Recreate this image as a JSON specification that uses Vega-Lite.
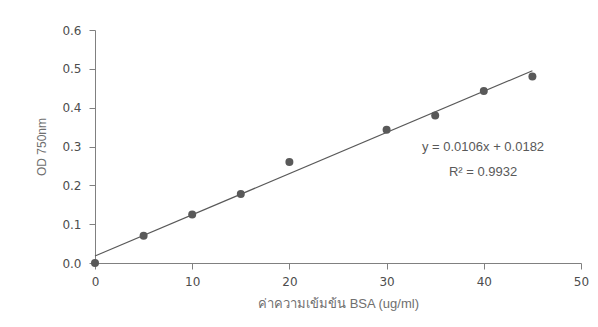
{
  "$schema": "https://vega.github.io/schema/vega-lite/v6.json",
  "width": 486,
  "height": 233,
  "autosize": {"type": "none"},
  "padding": {"left": 95, "top": 30, "right": 17, "bottom": 64},
  "background": "white",
  "config": {
    "view": {"stroke": null},
    "axis": {
      "labelFont": "DejaVu Sans",
      "labelFontSize": 12,
      "labelColor": "#4d4d4d",
      "labelOverlap": false,
      "labelFlush": false,
      "labelBound": false,
      "titleFont": "Liberation Sans",
      "titleFontWeight": "normal",
      "titleColor": "#6f6f6f",
      "domainColor": "#808080",
      "tickColor": "#808080",
      "tickSize": 6,
      "grid": false
    }
  },
  "datasets": {
    "points": [
      {"conc": 0, "od": 0.0},
      {"conc": 5, "od": 0.07},
      {"conc": 10, "od": 0.125},
      {"conc": 15, "od": 0.178},
      {"conc": 20, "od": 0.26},
      {"conc": 30, "od": 0.343},
      {"conc": 35, "od": 0.38},
      {"conc": 40, "od": 0.443},
      {"conc": 45, "od": 0.48}
    ],
    "trend": [
      {"conc": 0, "od": 0.0182},
      {"conc": 45, "od": 0.4952}
    ]
  },
  "layer": [
    {
      "data": {"name": "trend"},
      "mark": {"type": "line", "color": "#595959", "strokeWidth": 1.2},
      "encoding": {
        "x": {"field": "conc", "type": "quantitative",
              "scale": {"domain": [0, 50], "nice": false},
              "axis": {"title": "ค่าความเข้มข้น BSA (ug/ml)", "titleFontSize": 13, "values": [0, 10, 20, 30, 40, 50], "labelOverlap": false, "labelPadding": 7, "titlePadding": 10}},
        "y": {"field": "od", "type": "quantitative",
              "scale": {"domain": [0, 0.6], "nice": false},
              "axis": {"title": "OD 750nm", "titleFontSize": 12, "values": [0, 0.1, 0.2, 0.3, 0.4, 0.5, 0.6], "tickCount": 7, "labelOverlap": false, "format": ".1f", "labelPadding": 8, "titlePadding": 13}}
      }
    },
    {
      "data": {"name": "points"},
      "mark": {"type": "circle", "color": "#595959", "opacity": 1, "size": 64},
      "encoding": {
        "x": {"field": "conc", "type": "quantitative"},
        "y": {"field": "od", "type": "quantitative"}
      }
    },
    {
      "data": {"values": [{"label": "y = 0.0106x + 0.0182"}]},
      "mark": {"type": "text", "font": "Liberation Sans", "fontSize": 13, "color": "#595959"},
      "encoding": {
        "x": {"datum": 39.92, "type": "quantitative"},
        "y": {"datum": 0.2988, "type": "quantitative"},
        "text": {"field": "label"}
      }
    },
    {
      "data": {"values": [{"label": "R² = 0.9932"}]},
      "mark": {"type": "text", "font": "Liberation Sans", "fontSize": 13, "color": "#595959"},
      "encoding": {
        "x": {"datum": 39.92, "type": "quantitative"},
        "y": {"datum": 0.2343, "type": "quantitative"},
        "text": {"field": "label"}
      }
    }
  ]
}
